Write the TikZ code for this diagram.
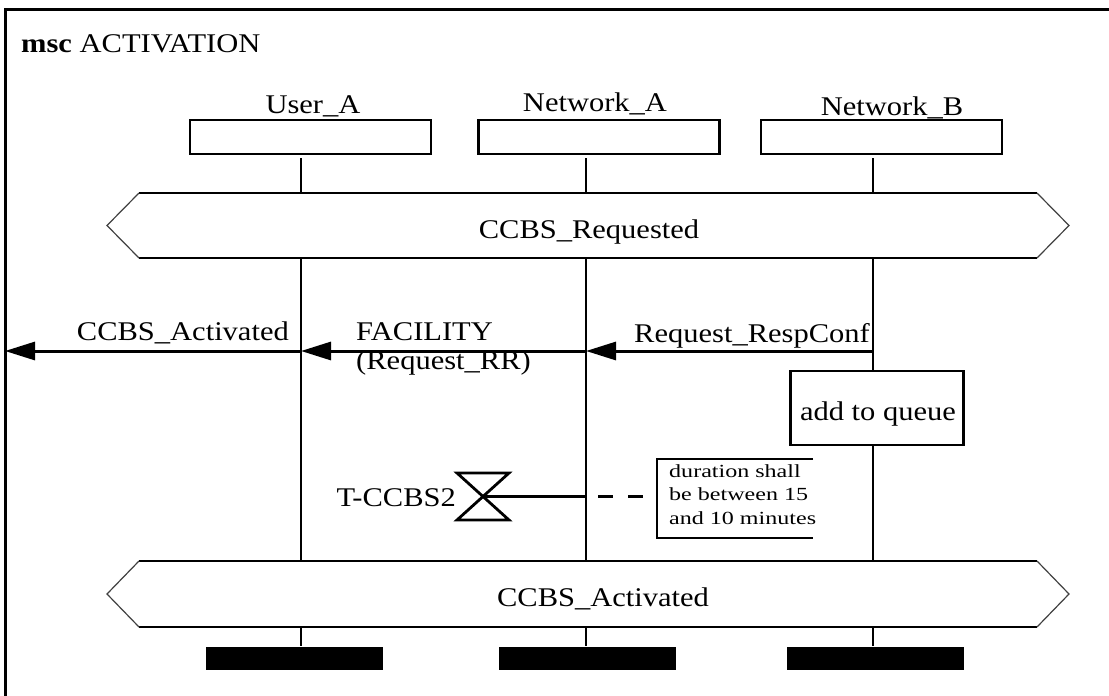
\documentclass[tikz,border=0pt]{standalone}
\usepackage{fontspec}
\setmainfont[FakeStretch=1.13]{Liberation Serif}
\newfontfamily\cmtfont[FakeStretch=1.3]{Liberation Serif}
\usetikzlibrary{arrows.meta}
\begin{document}
\begin{tikzpicture}[x=1pt,y=-1pt,
  lbl/.style={inner sep=0pt,anchor=base,font=\fontsize{27}{30}\selectfont},
  headbox/.style={draw,line width=2.8pt,minimum width=241pt,minimum height=34pt,inner sep=0pt},
  life/.style={line width=2.8pt},
  msg/.style={line width=3pt,-{Triangle[length=30pt,width=18pt]}},
  condh/.style={line width=2.8pt},
  conds/.style={line width=1.2pt,black!75},
  frame/.style={line width=3pt},
  actbox/.style={draw,line width=2.8pt,minimum width=173pt,minimum height=74pt,inner sep=0pt,fill=white},
  endbar/.style={fill=black,minimum width=177pt,minimum height=23pt,inner sep=0pt},
  cmt/.style={line width=2.8pt},
  tmr/.style={line width=2.8pt}]
\useasboundingbox (0,0) rectangle (1109,696);
% frame
\draw[frame] (5,696) -- (5,9) -- (1109,9);
\node[lbl,anchor=base west] (title) at (21,52) {\textbf{msc} ACTIVATION};
% instance heads
\node[headbox] (hA) at (310.5,137) {};
\node[headbox] (hNA) at (599,137) {};
\node[headbox] (hNB) at (881.5,137) {};
\node[lbl] (tA) at (313,113) {User\_A};
\node[lbl] (tNA) at (595,111) {Network\_A};
\node[lbl] (tNB) at (892,115) {Network\_B};
% lifeline coordinates
\coordinate (a0) at (301,158);  \coordinate (a1) at (301,193);
\coordinate (n0) at (586,158);  \coordinate (n1) at (586,193);
\coordinate (b0) at (873,158);  \coordinate (b1) at (873,193);
\draw[life] (a0) -- (a1); \draw[life] (n0) -- (n1); \draw[life] (b0) -- (b1);
% condition 1
\coordinate (c1tl) at (139,193); \coordinate (c1tr) at (1037,193);
\coordinate (c1bl) at (139,258); \coordinate (c1br) at (1037,258);
\coordinate (c1l) at (107,225.5); \coordinate (c1r) at (1069,225.5);
\draw[condh] (c1tl) -- (c1tr); \draw[condh] (c1bl) -- (c1br);
\draw[conds] (c1tl) -- (c1l) -- (c1bl); \draw[conds] (c1tr) -- (c1r) -- (c1br);
\node[lbl] (c1t) at (589,238) {CCBS\_Requested};
% lifelines middle
\coordinate (a2) at (301,258); \coordinate (a3) at (301,561);
\coordinate (n2) at (586,258); \coordinate (n3) at (586,561);
\coordinate (b2) at (873,258); \coordinate (b3) at (873,561);
\draw[life] (a2) -- (a3); \draw[life] (n2) -- (n3); \draw[life] (b2) -- (b3);
% messages
\coordinate (ma) at (301,351); \coordinate (mn) at (586,351); \coordinate (mb) at (873,351);
\coordinate (menv) at (5,351);
\draw[msg] (mb) -- (mn);
\draw[msg] (mn) -- (ma);
\draw[msg] (ma) -- (menv);
\node[lbl,anchor=base east] (m1) at (870,342) {Request\_RespConf};
\node[lbl,anchor=base west] (m2a) at (356,340) {FACILITY};
\node[lbl,anchor=base west] (m2b) at (356,369) {(Request\_RR)};
\node[lbl,anchor=base east] (m3) at (289,340) {CCBS\_Activated};
% action
\node[actbox] (act) at (877,408) {};
\node[lbl] (actt) at (878,420) {add to queue};
% timer
\coordinate (tc) at (483,496.5);
\draw[tmr] (457,473) -- (509,473) -- (457,520) -- (509,520) -- cycle;
\node[lbl,anchor=base east] (tt) at (456,506) {T-CCBS2};
\coordinate (tn) at (586,496.5);
\draw[tmr] (tc) -- (tn);
% comment
\coordinate (cm) at (657,496.5);
\draw[line width=2.8pt,dash pattern=on 15pt off 15pt,dash phase=18pt] (tn) -- (cm);
\draw[cmt] (813,459) -- (657,459) -- (657,538) -- (813,538);
\node[inner sep=0pt,anchor=north west,align=left,font=\cmtfont\fontsize{18.5}{23.5}\selectfont] (cmtt) at (669,464) {duration shall\\be between 15\\and 10 minutes};
% condition 2
\coordinate (c2tl) at (139,561); \coordinate (c2tr) at (1037,561);
\coordinate (c2bl) at (139,627); \coordinate (c2br) at (1037,627);
\coordinate (c2l) at (107,594); \coordinate (c2r) at (1069,594);
\draw[condh] (c2tl) -- (c2tr); \draw[condh] (c2bl) -- (c2br);
\draw[conds] (c2tl) -- (c2l) -- (c2bl); \draw[conds] (c2tr) -- (c2r) -- (c2br);
\node[lbl] (c2t) at (603,606) {CCBS\_Activated};
% end bars
\node[endbar] (eA) at (294,658) {};
\node[endbar] (eN) at (587,658) {};
\node[endbar] (eB) at (875,658) {};
\coordinate (a4) at (301,627); \coordinate (n4) at (586,627); \coordinate (b4) at (873,627);
\draw[life] (a4) -- (a4 |- eA.north);
\draw[life] (n4) -- (n4 |- eN.north);
\draw[life] (b4) -- (b4 |- eB.north);
\end{tikzpicture}
\end{document}
